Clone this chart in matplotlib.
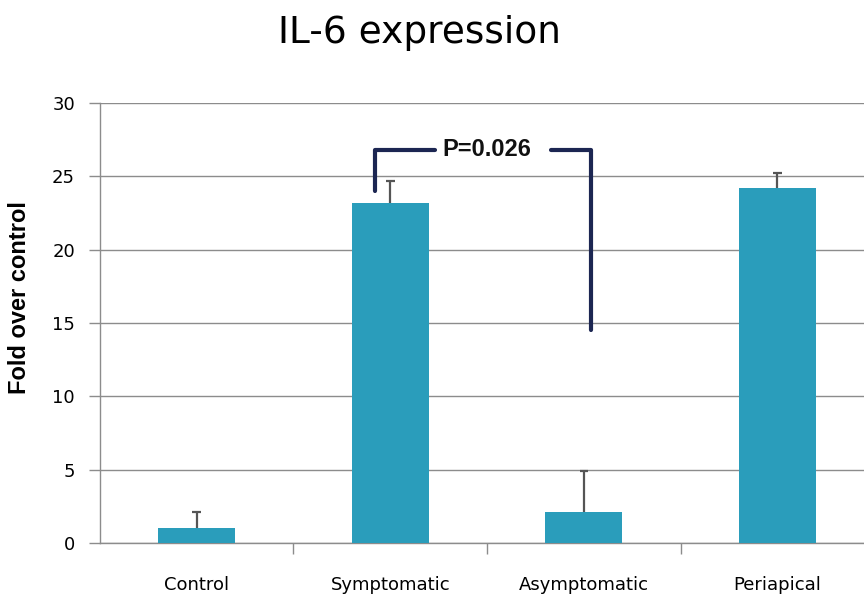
import matplotlib.pyplot as plt

# Data
groups = ['Control', 'Symptomatic', 'Asymptomatic', 'Periapical']
fold = [1.0, 23.2, 2.1, 24.2]
err_up = [1.1, 1.5, 2.8, 1.0]
p_label = 'P=0.026'

bar_color = '#2A9DBB'
grid_color = '#8C8C8C'
navy = '#1C2652'

fig = plt.figure(figsize=(8.64, 5.99), dpi=100)
ax = fig.add_axes([0.1157, 0.0935, 0.8843, 0.7346])

x = list(range(len(groups)))
ax.bar(x, fold, width=0.40, color=bar_color, zorder=3)

# upper-only error bars
tops = [f + e for f, e in zip(fold, err_up)]
ax.vlines(x, fold, tops, color='#555555', lw=1.6, zorder=4)
ax.hlines(tops, [i - 0.022 for i in x], [i + 0.022 for i in x],
          color='#555555', lw=1.6, zorder=4)

ax.set_xlim(-0.5, 3.448)
ax.set_ylim(0, 30)
ax.set_yticks(range(0, 31, 5))
ax.yaxis.grid(True, color=grid_color, linewidth=1.0, zorder=0)

# spines
for s in ['top', 'right']:
    ax.spines[s].set_visible(False)
ax.spines['left'].set_color(grid_color)
ax.spines['bottom'].set_color(grid_color)
ax.spines['left'].set_linewidth(1.0)
ax.spines['bottom'].set_linewidth(1.0)

# category labels, tick marks only between groups
ax.set_xticks(x)
ax.set_xticklabels(groups, fontsize=13, family='DejaVu Sans')
ax.tick_params(axis='x', which='major', length=0, pad=24)
ax.set_xticks([0.5, 1.5, 2.5], minor=True)
ax.tick_params(axis='x', which='minor', length=8, color=grid_color, width=1.0)
ax.tick_params(axis='y', length=8, color=grid_color, width=1.0, pad=10, labelsize=13)

fig.text(20 / 864, 0.5025, 'Fold over control', rotation=90, fontsize=17,
         fontweight='bold', family='Liberation Sans', ha='center', va='center')

fig.text(0.486, 0.945, 'IL-6 expression', fontsize=27, ha='center', va='center',
         family='DejaVu Sans')

# significance bracket
y_top = 26.8
ax.plot([0.921, 0.921, 1.23], [24.0, y_top, y_top], color=navy, lw=3,
        solid_capstyle='round', zorder=5)
ax.plot([1.83, 2.037, 2.037], [y_top, y_top, 14.5], color=navy, lw=3,
        solid_capstyle='round', zorder=5)
ax.text(1.50, y_top, p_label, ha='center', va='center', fontsize=17,
        fontweight='bold', family='Liberation Sans', color='#111111', zorder=6)

fig.savefig('out.png', dpi=100)
